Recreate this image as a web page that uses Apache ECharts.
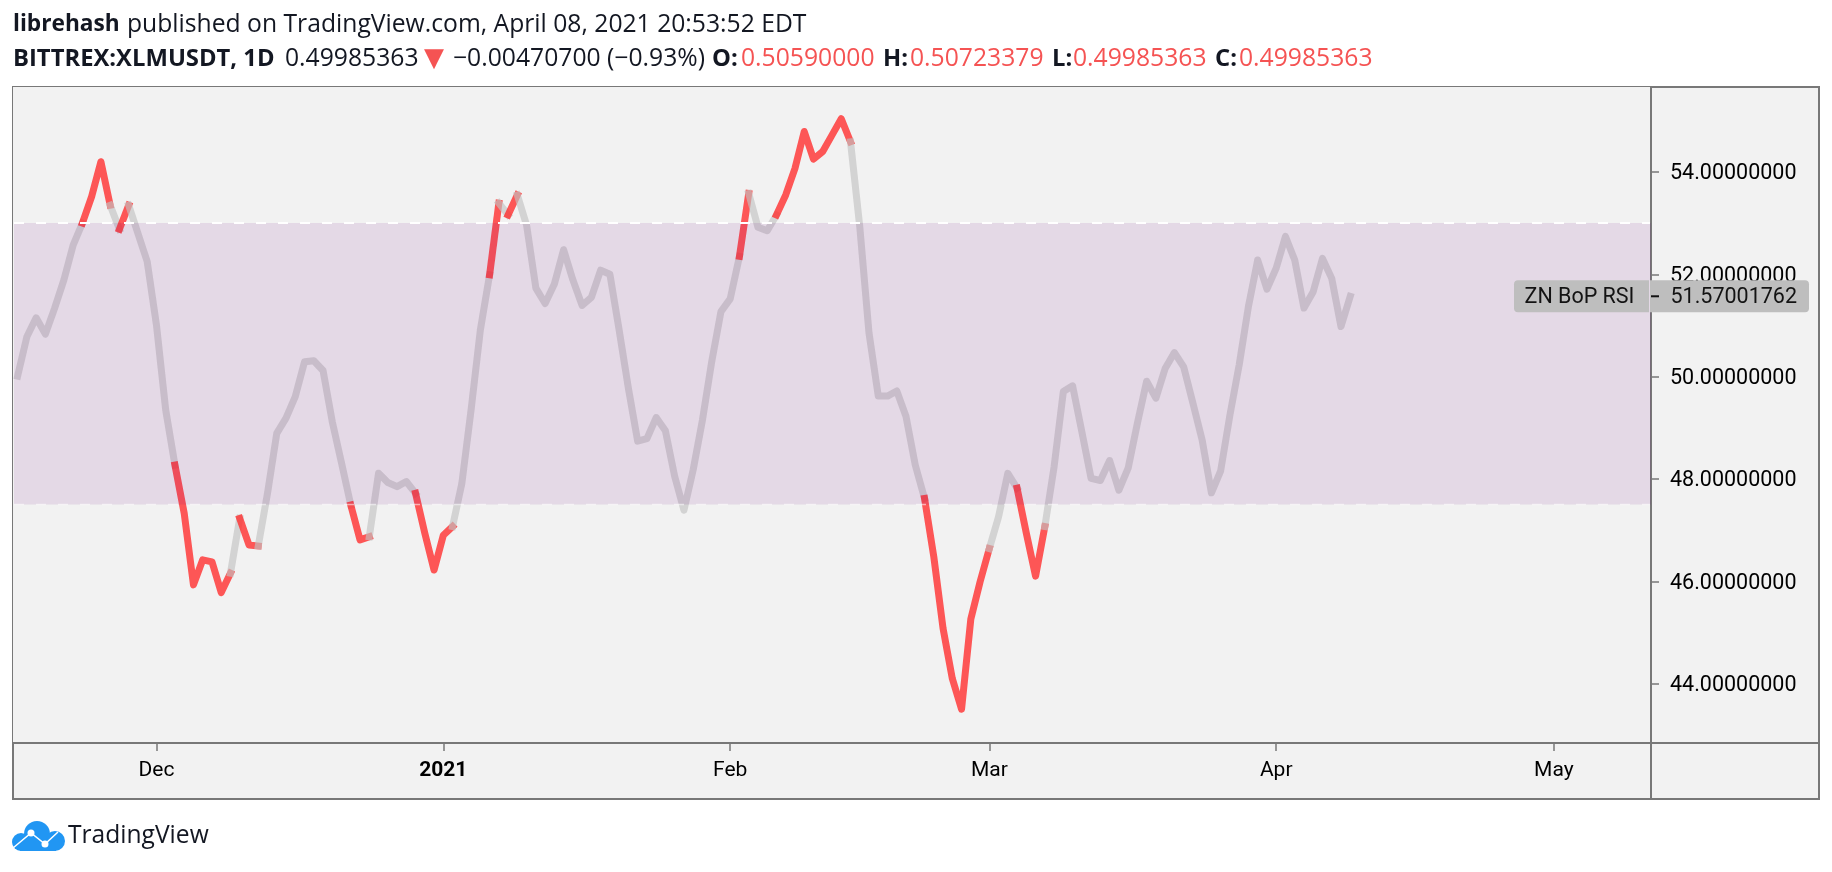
<!DOCTYPE html>
<html>
<head>
<meta charset="utf-8">
<title>BITTREX:XLMUSDT ZN BoP RSI</title>
<script src="https://cdn.jsdelivr.net/npm/echarts@6/dist/echarts.min.js"></script>
<style>
html,body{margin:0;padding:0;background:#fff;}
#main{width:1832px;height:872px;}
</style>
</head>
<body>
<div id="main"></div>
<script>
// daily closes of the indicator, first one is 2020-11-16
var rsiValues = [
	50.01,50.78,51.15,50.83,51.34,51.89,52.57,53.00,53.52,54.20,
	53.35,52.88,53.35,52.80,52.25,51.01,49.35,48.27,47.33,45.93,
	46.42,46.38,45.78,46.16,47.23,46.71,46.69,47.72,48.89,49.19,
	49.61,50.29,50.31,50.12,49.12,48.31,47.49,46.81,46.87,48.11,
	47.93,47.85,47.95,47.72,46.94,46.22,46.90,47.07,47.91,49.35,
	50.91,51.99,53.39,53.16,53.55,52.96,51.73,51.43,51.81,52.48,
	51.89,51.39,51.55,52.08,52.00,50.91,49.77,48.74,48.79,49.20,
	48.94,48.05,47.39,48.18,49.15,50.29,51.27,51.52,52.35,53.58,
	52.92,52.85,53.16,53.55,54.07,54.79,54.25,54.40,54.72,55.04,
	54.59,52.93,50.85,49.62,49.62,49.72,49.22,48.27,47.62,46.48,
	45.08,44.10,43.50,45.26,45.99,46.64,47.26,48.11,47.82,46.94,
	46.10,47.07,48.24,49.71,49.82,48.92,48.01,47.97,48.36,47.78,
	48.21,49.09,49.91,49.58,50.16,50.47,50.19,49.48,48.76,47.73,
	48.16,49.25,50.23,51.37,52.28,51.71,52.12,52.74,52.28,51.34,
	51.66,52.31,51.92,50.98,51.57
];
// index ranges of rsiValues that are drawn red, the rest is grey
var redRuns = [[7,10],[11,12],[17,23],[24,26],[36,38],[43,47],[51,52],[53,54],[78,79],[82,90],[98,105],[108,111]];
var bandLimits = [53,47.5];
var yTicks = [44,46,48,50,52,54];
var monthTicks = {'2020-12-01':'Dec','2021-01-01':'2021','2021-02-01':'Feb','2021-03-01':'Mar','2021-04-01':'Apr','2021-05-01':'May'};
var lastLabel = 'ZN BoP RSI';
var lastValueText = '51.57001762';

var dateList = [];
for (var d = Date.UTC(2020,10,16), n = 0;n < 177;n++,d += 86400000){
	dateList.push(new Date(d).toISOString().slice(0,10));
}

var GREY = 'rgba(193,193,193,0.65)';
var RED = 'rgba(255,46,46,0.8)';
var AXIS = '#787878';
var INK = '#131722';
var RED_TEXT = '#F55353';

function buildRuns(){
	var runs = [], pos = 0;
	for (var i = 0;i < redRuns.length;i++){
		if (redRuns[i][0] > pos) runs.push([pos,redRuns[i][0],GREY]);
		runs.push([redRuns[i][0],redRuns[i][1],RED]);
		pos = redRuns[i][1];
	}
	if (pos < rsiValues.length-1) runs.push([pos,rsiValues.length-1,GREY]);
	return runs;
}

function runSeries(run,idx){
	return {
		type: 'line',
		z: 3+idx,
		showSymbol: false,
		silent: true,
		connectNulls: false,
		lineStyle: {color: run[2],width: 7,cap: 'square',join: 'round'},
		data: rsiValues.map(function(v,i){
			return (i >= run[0] && i <= run[1]) ? v : null;
		})
	};
}

// band is a custom series so it can sit on top of the lines
var bandSeries = {
	type: 'custom',
	z: 60,
	silent: true,
	data: [bandLimits],
	clip: false,
	renderItem: function(params,api){
		var cs = params.coordSys;
		var top = api.coord([0,api.value(0)])[1];
		var bottom = api.coord([0,api.value(1)])[1];
		return {
			type: 'group',
			children: [
				{
					type: 'rect',
					shape: {x: cs.x+1,y: top,width: cs.width-1,height: bottom-top},
					style: {fill: 'rgba(112,2,132,0.1)'}
				},
				{
					type: 'line',
					shape: {x1: cs.x+1,y1: top,x2: cs.x+cs.width-1,y2: top},
					style: {stroke: '#fff',lineWidth: 2,lineDash: [10,12]}
				},
				{
					type: 'line',
					shape: {x1: cs.x+1,y1: bottom,x2: cs.x+cs.width-1,y2: bottom},
					style: {stroke: 'rgba(255,255,255,0.55)',lineWidth: 1.5,lineDash: [10,12]}
				}
			]
		};
	}
};

var seriesList = buildRuns().map(runSeries);
seriesList.push(bandSeries);

var option = {
	animation: false,
	backgroundColor: '#fff',
	textStyle: {fontFamily: 'Roboto'},
	grid: {left: 13,right: 181,top: 87,height: 656,show: true,backgroundColor: '#F2F2F2',borderWidth: 0},
	xAxis: {
		type: 'category',
		data: dateList,
		boundaryGap: true,
		axisLine: {lineStyle: {color: AXIS,width: 2}},
		axisTick: {
			show: true,alignWithLabel: true,length: 8,
			lineStyle: {color: AXIS,width: 1.5},
			interval: function(i,value){ return monthTicks[value] !== undefined; }
		},
		axisLabel: {
			margin: 17,fontSize: 21,fontFamily: 'Roboto',color: '#000',
			interval: function(i,value){ return monthTicks[value] !== undefined; },
			formatter: function(value){
				var t = monthTicks[value];
				return t === '2021' ? '{y|'+t+'}' : t;
			},
			rich: {y: {fontSize: 21,fontWeight: 'bold',fontFamily: 'Roboto',color: '#000'}}
		},
		splitLine: {show: false}
	},
	yAxis: {
		type: 'value',
		position: 'right',
		min: 42.84,
		max: 55.66,
		axisLine: {show: true,lineStyle: {color: AXIS,width: 2}},
		axisTick: {show: true,length: 8,lineStyle: {color: AXIS,width: 1.5},customValues: yTicks},
		axisLabel: {
			margin: 19,
			customValues: yTicks,
			formatter: function(v){ return '{v|'+v.toFixed(8)+'}'; },
			rich: {v: {fontSize: 21.5,fontFamily: 'Roboto',color: '#000',padding: [4,0,0,0]}}
		},
		splitLine: {show: false}
	},
	series: seriesList,
	graphic: []
};

var myChart = echarts.init(document.getElementById('main'));
myChart.setOption(option);

// header pieces: x, text, font, colour
var headerLine1 = [
	[13,'librehash','bold 22.7px "Open Sans"',INK],
	[127,'published on TradingView.com, April 08, 2021 20:53:52 EDT','24.7px "Open Sans"',INK]
];
var headerLine2 = [
	[13,'BITTREX:XLMUSDT, 1D','bold 23.8px "Open Sans"',INK],
	[285,'0.49985363','24.7px "Open Sans"',INK],
	[424,'▼','26px "DejaVu Sans"',RED_TEXT],
	[453,'−0.00470700 (−0.93%)','24.7px "Open Sans"',INK],
	[712,'O:','bold 23.8px "Open Sans"',INK],
	[741,'0.50590000','24.7px "Open Sans"',RED_TEXT],
	[883,'H:','bold 23.8px "Open Sans"',INK],
	[910,'0.50723379','24.7px "Open Sans"',RED_TEXT],
	[1052,'L:','bold 23.8px "Open Sans"',INK],
	[1073,'0.49985363','24.7px "Open Sans"',RED_TEXT],
	[1215,'C:','bold 23.8px "Open Sans"',INK],
	[1239,'0.49985363','24.7px "Open Sans"',RED_TEXT]
];
function headerText(y){
	return function(p){
		return {type: 'text',z: 100,style: {x: p[0],y: y,text: p[1],font: p[2],fill: p[3],textVerticalAlign: 'middle'}};
	};
}

// frame, last value pills and the logo
var lastY = myChart.convertToPixel({yAxisIndex: 0},rsiValues[rsiValues.length-1]);
var graphicList = [
	{type: 'rect',z: -5,shape: {x: 13,y: 87,width: 1806,height: 712},style: {fill: '#F2F2F2',stroke: AXIS,lineWidth: 2}},
	{type: 'line',z: 100,shape: {x1: 1651,y1: 743,x2: 1651,y2: 799},style: {stroke: AXIS,lineWidth: 2}},
	{type: 'line',z: 100,shape: {x1: 1651,y1: 743,x2: 1819,y2: 743},style: {stroke: AXIS,lineWidth: 2}},
	{type: 'rect',z: 100,shape: {x: 1514,y: lastY-16,width: 135,height: 32,r: [4,0,0,4]},style: {fill: '#BEBEBE'}},
	{type: 'rect',z: 100,shape: {x: 1650,y: lastY-16,width: 159,height: 32,r: [0,4,4,0]},style: {fill: '#BEBEBE'}},
	{type: 'line',z: 101,shape: {x1: 1651,y1: lastY,x2: 1659,y2: lastY},style: {stroke: '#131313',lineWidth: 2}},
	{type: 'text',z: 101,style: {x: 1524.5,y: lastY+1,text: lastLabel,font: '21.5px Roboto',fill: '#131313',textVerticalAlign: 'middle'}},
	{type: 'text',z: 101,style: {x: 1670.5,y: lastY+1,text: lastValueText,font: '21.5px Roboto',fill: '#131313',textVerticalAlign: 'middle'}},
	{
		type: 'group',x: 12,y: 821,z: 100,
		children: [
			{type: 'circle',shape: {cx: 9,cy: 21,r: 9},style: {fill: '#2196F3'}},
			{type: 'circle',shape: {cx: 25,cy: 13,r: 13},style: {fill: '#2196F3'}},
			{type: 'circle',shape: {cx: 43,cy: 20,r: 10},style: {fill: '#2196F3'}},
			{type: 'rect',shape: {x: 8,y: 14,width: 36,height: 16},style: {fill: '#2196F3'}},
			{type: 'polyline',shape: {points: [[1,27],[19,12],[33,23],[46,11]]},style: {stroke: '#fff',lineWidth: 1.5,fill: null}},
			{type: 'circle',shape: {cx: 19,cy: 12,r: 3.5},style: {fill: '#fff'}},
			{type: 'circle',shape: {cx: 33,cy: 23,r: 3.5},style: {fill: '#fff'}}
		]
	},
	{type: 'text',z: 100,style: {x: 68,y: 836,text: 'TradingView',font: '24.6px "Open Sans"',fill: INK,textVerticalAlign: 'middle'}}
];
graphicList = graphicList.concat(headerLine1.map(headerText(24.5)),headerLine2.map(headerText(59)));
myChart.setOption({graphic: graphicList});
</script>
</body>
</html>
